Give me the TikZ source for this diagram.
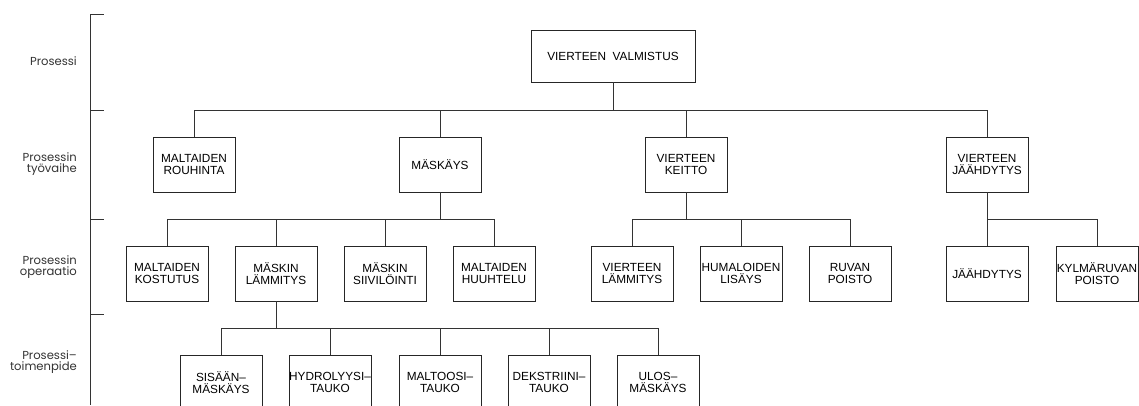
\documentclass[tikz,border=0pt]{standalone}
\usepackage{fontspec}
\setmainfont{Liberation Sans}
\newfontfamily\lblfont{Poppins}
\begin{document}
\begin{tikzpicture}[x=1pt,y=-1pt,
  box/.style={draw=black!85, line width=0.8pt, minimum width=82pt, minimum height=55pt,
    inner sep=0pt, align=center, font=\fontsize{11.8}{11.5}\selectfont},
  conn/.style={draw=black!80, line width=0.8pt},
  lvl/.style={anchor=east, align=right, inner sep=0pt, font=\lblfont\fontsize{11.6}{11.5}\selectfont, text=black!80}]
\useasboundingbox (0,0) rectangle (1139,405);
% level bracket
\coordinate (bt) at (90,14);
\coordinate (bb) at (90,405);
\draw[conn] (bt) -- (bb);
\foreach \yy in {14,110,219,314} \draw[conn] (90,\yy) -- (104,\yy);
\node[lvl] (l1) at (77,61) {Prosessi};
\node[lvl] (l2) at (77,164) {Prosessin\\työvaihe};
\node[lvl] (l3) at (77,267) {Prosessin\\operaatio};
\node[lvl] (l4) at (77,362) {Prosessi–\\toimenpide};
% level 1
\node[box, minimum width=164pt, minimum height=52pt] (top) at (613,56) {VIERTEEN\ \ VALMISTUS};
% level 2
\node[box] (rouh) at (194,164.5) {MALTAIDEN\\ROUHINTA};
\node[box] (mask) at (440,164.5) {MÄSKÄYS};
\node[box] (keit) at (686,164.5) {VIERTEEN\\KEITTO};
\node[box] (jaah) at (987,164.5) {VIERTEEN\\JÄÄHDYTYS};
% level 3
\node[box] (kost) at (167,273.5) {MALTAIDEN\\KOSTUTUS};
\node[box] (lamm) at (276,273.5) {MÄSKIN\\LÄMMITYS};
\node[box] (siiv) at (385,273.5) {MÄSKIN\\SIIVILÖINTI};
\node[box] (huuh) at (494,273.5) {MALTAIDEN\\HUUHTELU};
\node[box] (vlamm) at (632,273.5) {VIERTEEN\\LÄMMITYS};
\node[box] (huma) at (741,273.5) {HUMALOIDEN\\LISÄYS};
\node[box] (ruva) at (850,273.5) {RUVAN\\POISTO};
\node[box] (jdyt) at (987,273.5) {JÄÄHDYTYS};
\node[box] (kylm) at (1097,273.5) {KYLMÄRUVAN\\POISTO};
% level 4
\node[box] (sisa) at (221,382.5) {SISÄÄN–\\MÄSKÄYS};
\node[box] (hydr) at (330,382.5) {HYDROLYYSI–\\TAUKO};
\node[box] (malt) at (440,382.5) {MALTOOSI–\\TAUKO};
\node[box] (deks) at (549,382.5) {DEKSTRIINI–\\TAUKO};
\node[box] (ulos) at (658,382.5) {ULOS–\\MÄSKÄYS};
% buses
\coordinate (b1) at (0,110);
\coordinate (b2) at (0,219);
\coordinate (b3) at (0,328);
% top -> level 2
\draw[conn] (top.south) -- (top.south |- b1);
\draw[conn] (rouh.north |- b1) -- (jaah.north |- b1);
\foreach \c in {rouh,mask,keit,jaah} \draw[conn] (\c.north) -- (\c.north |- b1);
% maskays -> level 3
\draw[conn] (mask.south) -- (mask.south |- b2);
\draw[conn] (kost.north |- b2) -- (huuh.north |- b2);
\foreach \c in {kost,lamm,siiv,huuh} \draw[conn] (\c.north) -- (\c.north |- b2);
% keitto -> level 3
\draw[conn] (keit.south) -- (keit.south |- b2);
\draw[conn] (vlamm.north |- b2) -- (ruva.north |- b2);
\foreach \c in {vlamm,huma,ruva} \draw[conn] (\c.north) -- (\c.north |- b2);
% jaahdytys -> level 3
\draw[conn] (jaah.south) -- (jaah.south |- b2);
\draw[conn] (jdyt.north |- b2) -- (kylm.north |- b2);
\foreach \c in {jdyt,kylm} \draw[conn] (\c.north) -- (\c.north |- b2);
% lammitys -> level 4
\draw[conn] (lamm.south) -- (lamm.south |- b3);
\draw[conn] (sisa.north |- b3) -- (ulos.north |- b3);
\foreach \c in {sisa,hydr,malt,deks,ulos} \draw[conn] (\c.north) -- (\c.north |- b3);
\end{tikzpicture}
\end{document}
